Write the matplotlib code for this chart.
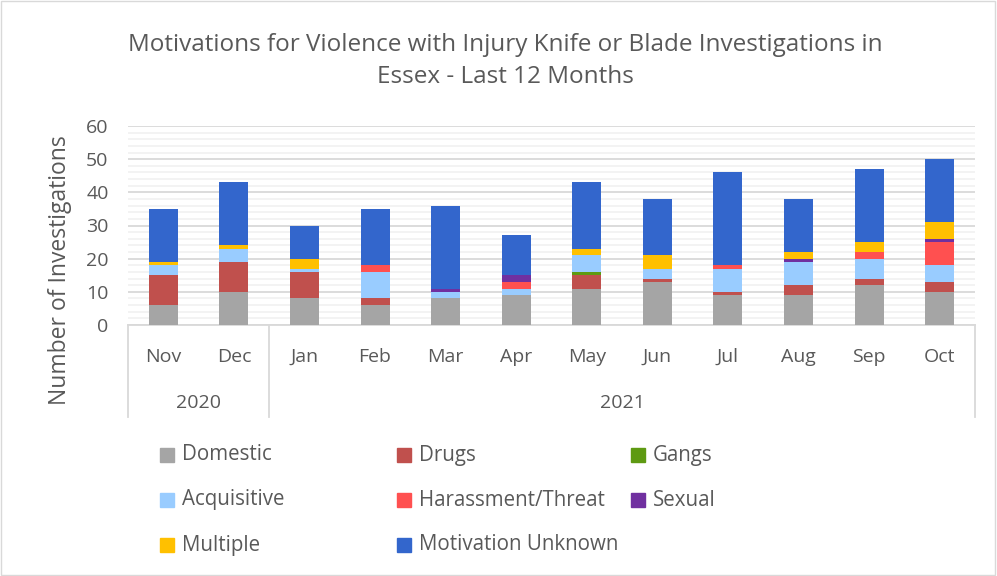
import matplotlib.pyplot as plt
from matplotlib.patches import Rectangle
from matplotlib.lines import Line2D
import matplotlib.transforms as mtransforms
import numpy as np

# ---- data ----
months = ["Nov", "Dec", "Jan", "Feb", "Mar", "Apr", "May", "Jun", "Jul", "Aug", "Sep", "Oct"]
years = ["2020", "2021"]
year_span = [2, 10]   # number of months in each year group

domestic    = [6, 10, 8, 6, 8, 9, 11, 13, 9, 9, 12, 10]
drugs       = [9, 9, 8, 2, 0, 0, 4, 1, 1, 3, 2, 3]
gangs       = [0, 0, 0, 0, 0, 0, 1, 0, 0, 0, 0, 0]
acquisitive = [3, 4, 1, 8, 2, 2, 5, 3, 7, 7, 6, 5]
harassment  = [0, 0, 0, 2, 0, 2, 0, 0, 1, 0, 2, 7]
sexual      = [0, 0, 0, 0, 1, 2, 0, 0, 0, 1, 0, 1]
multiple    = [1, 1, 3, 0, 0, 0, 2, 4, 0, 2, 3, 5]
unknown     = [16, 19, 10, 17, 25, 12, 20, 17, 28, 16, 22, 19]

series = [
    ("Domestic", domestic, "#A5A5A5"),
    ("Drugs", drugs, "#C0504D"),
    ("Gangs", gangs, "#5E9A12"),
    ("Acquisitive", acquisitive, "#99CCFF"),
    ("Harassment/Threat", harassment, "#FF5050"),
    ("Sexual", sexual, "#7030A0"),
    ("Multiple", multiple, "#FFC000"),
    ("Motivation Unknown", unknown, "#3366CC"),
]

plt.rcParams['font.family'] = ['Open Sans', 'DejaVu Sans']
txt_col = "#595959"

W, H = 997, 576
fig = plt.figure(figsize=(W / 100, H / 100), dpi=100)

# outer chart border
fig.patches.append(Rectangle((1 / W, 1 / H), 1 - 3 / W, 1 - 2 / H, transform=fig.transFigure,
                             fill=False, edgecolor="#D9D9D9", lw=1))

left, right, top, bottom = 128, 975, 126, 325
ax = fig.add_axes([left / W, 1 - bottom / H, (right - left) / W, (bottom - top) / H])

x = np.arange(len(months))
base = np.zeros(len(months))
for name, vals, col in series:
    ax.bar(x, vals, 0.41, bottom=base, color=col, zorder=3)
    base += np.array(vals)

ax.set_xlim(-0.5, len(months) - 0.5)
ax.set_ylim(0, 60)
ax.set_yticks(range(0, 61, 10))
ax.set_yticks(range(0, 61, 2), minor=True)
ax.grid(axis="y", which="major", color="#D9D9D9", lw=1.3, zorder=0)
ax.grid(axis="y", which="minor", color="#F2F2F2", lw=1.3, zorder=0)
ax.tick_params(axis="y", which="both", length=0, labelsize=14, labelcolor=txt_col, pad=14)
ax.tick_params(axis="x", which="both", length=0, labelbottom=False)
for s in ["top", "right", "left"]:
    ax.spines[s].set_visible(False)
ax.spines["bottom"].set_color("#D9D9D9")
ax.spines["bottom"].set_linewidth(1.3)

fig.text(60 / W, 1 - 270 / H, "Number of Investigations", rotation=90, ha="center", va="center",
         fontsize=16.5, color=txt_col)

# multi-level category axis
trans = mtransforms.blended_transform_factory(ax.transData, fig.transFigure)
for i, m in enumerate(months):
    fig.text(i, 1 - 357 / H, m, transform=trans, ha="center", va="center",
             fontsize=14, color=txt_col)
start = 0
bounds = [-0.5]
for yr, n in zip(years, year_span):
    fig.text(start + (n - 1) / 2, 1 - 403 / H, yr, transform=trans, ha="center", va="center",
             fontsize=14, color=txt_col)
    start += n
    bounds.append(start - 0.5)
for b in bounds:
    fig.lines.append(Line2D([b, b], [1 - 325 / H, 1 - 417 / H], transform=trans,
                            color="#D9D9D9", lw=1.3))

# title
fig.text(505 / W, 1 - 61 / H,
         "Motivations for Violence with Injury Knife or Blade Investigations in\nEssex - Last 12 Months",
         ha="center", va="center", fontsize=17.5, color=txt_col, linespacing=1.42)

# legend (row-wise, 3 columns like Excel)
col_x = [160, 397, 631]
row_y = [455, 500, 545]
for k, (name, vals, col) in enumerate(series):
    r, c = divmod(k, 3)
    cx, cy = col_x[c], row_y[r]
    fig.patches.append(Rectangle((cx / W, 1 - (cy + 7) / H), 14 / W, 14 / H,
                                 transform=fig.transFigure, color=col))
    fig.text((cx + 22) / W, 1 - cy / H, name, ha="left", va="center",
             fontsize=14.8, color=txt_col)

fig.savefig("out.png", dpi=100)
